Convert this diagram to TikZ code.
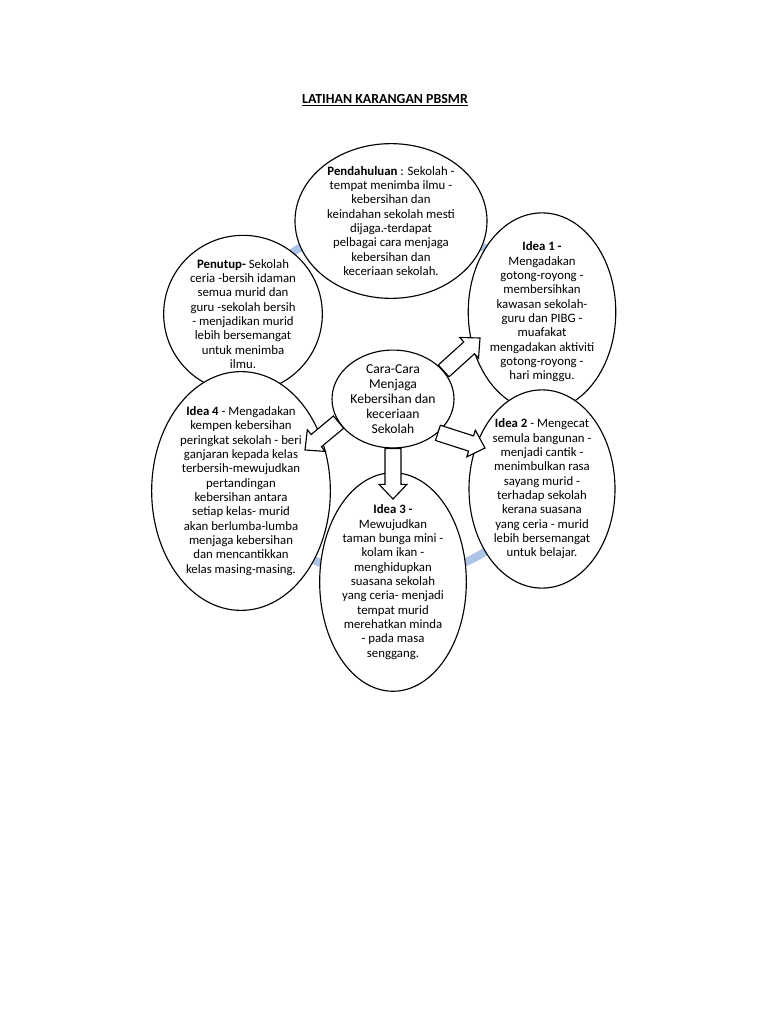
\documentclass[tikz,border=0pt]{standalone}
\usepackage{fontspec}
\setmainfont{Carlito}
\usetikzlibrary{shapes.geometric,calc}
\definecolor{ringblue}{RGB}{172,197,230}
\newcommand\blockarrow[3]{%
  \coordinate (#1n) at ($(#3)!11pt!(#2)$);
  \draw[arrowbox] ($(#2)!6pt!90:(#3)$) -- ($(#1n)!6pt!90:(#3)$) -- ($(#1n)!10.5pt!90:(#3)$)
    -- (#3) -- ($(#1n)!10.5pt!-90:(#3)$) -- ($(#1n)!6pt!-90:(#3)$) -- ($(#2)!6pt!-90:(#3)$) -- cycle;}
\begin{document}
\begin{tikzpicture}[x=0.75pt,y=-0.75pt,
  bubble/.style={ellipse,draw=black,line width=0.85pt,fill=white,inner sep=0pt,align=center,
    font=\fontsize{9.6}{10.75}\selectfont},
  arrowbox/.style={draw=black,line width=0.85pt,fill=white,line join=miter}]
\useasboundingbox (0,0) rectangle (768,1024);
\fill[white] (0,0) rectangle (768,1024);
\node[font=\bfseries\fontsize{10.4}{12}\selectfont] (title) at (385,100) {\underline{LATIHAN KARANGAN PBSMR}};
\draw[ringblue,line width=6pt] (392,400) circle (178);

\node[bubble,minimum width=144pt,minimum height=105pt] (pend) at (391,221)
 {\textbf{Pendahuluan} : Sekolah -\\ tempat menimba ilmu -\\ kebersihan dan\\ keindahan sekolah mesti\\ dijaga.-terdapat\\ pelbagai cara menjaga\\ kebersihan dan\\ keceriaan sekolah.};
\node[bubble,minimum width=119pt,minimum height=118pt] (penutup) at (243,314)
 {\textbf{Penutup-} Sekolah\\ ceria -bersih idaman\\ semua murid dan\\ guru -sekolah bersih\\ - menjadikan murid\\ lebih bersemangat\\ untuk menimba\\ ilmu.};
\node[bubble,minimum width=109.5pt,minimum height=132pt] (idea1) at (542,312)
 {\textbf{Idea 1 -}\\ Mengadakan\\ gotong-royong -\\ membersihkan\\ kawasan sekolah-\\ guru dan PIBG -\\ muafakat\\ mengadakan aktiviti\\ gotong-royong -\\ hari minggu.};
\node[bubble,minimum width=91.5pt,minimum height=60pt,font=\fontsize{10.2}{11.3}\selectfont] (c) at (393,399)
 {Cara-Cara\\ Menjaga\\ Kebersihan dan\\ keceriaan\\ Sekolah};
\node[bubble,minimum width=134pt,minimum height=148pt] (idea4) at (241,491)
 {\textbf{Idea 4} - Mengadakan\\ kempen kebersihan\\ peringkat sekolah - beri\\ ganjaran kepada kelas\\ terbersih-mewujudkan\\ pertandingan\\ kebersihan antara\\ setiap kelas- murid\\ akan berlumba-lumba\\ menjaga kebersihan\\ dan mencantikkan\\ kelas masing-masing.};
\node[bubble,minimum width=109.5pt,minimum height=137pt] (idea2) at (542,489)
 {\textbf{Idea 2} - Mengecat\\ semula bangunan -\\ menjadi cantik -\\ menimbulkan rasa\\ sayang murid -\\ terhadap sekolah\\ kerana suasana\\ yang ceria - murid\\ lebih bersemangat\\ untuk belajar.};
\node[bubble,minimum width=110pt,minimum height=131pt] (idea3) at (393,582)
 {\textbf{Idea 3 -}\\ Mewujudkan\\ taman bunga mini -\\ kolam ikan -\\ menghidupkan\\ suasana sekolah\\ yang ceria- menjadi\\ tempat murid\\ merehatkan minda\\ - pada masa\\ senggang.};

\coordinate (tip1) at (480,338);
\coordinate (tip2) at (485,448);
\coordinate (tip3) at (393,499);
\coordinate (tip4) at (305,450);
\blockarrow{a1}{c.29}{tip1}
\blockarrow{a2}{c.-37}{tip2}
\blockarrow{a3}{c.south}{tip3}
\blockarrow{a4}{c.203}{tip4}
\end{tikzpicture}
\end{document}
